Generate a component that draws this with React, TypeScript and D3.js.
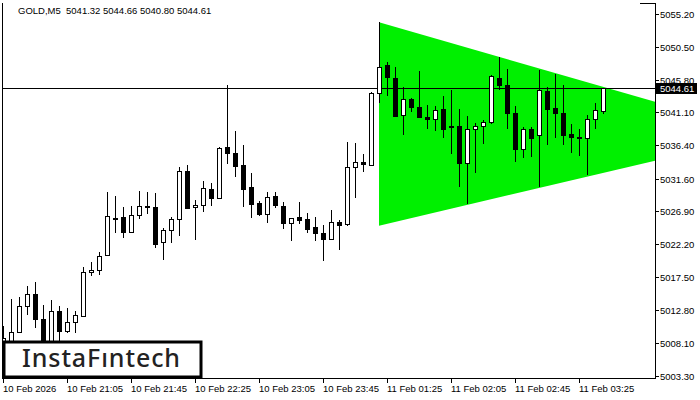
import React from "react";
import * as d3 from "d3";

// GOLD M5 bars (index 0 = 10 Feb 20:25)
const opens = [
  5006.5, 5007.75, 5009.65, 5013.34, 5015.01, 5011.43, 5007.31, 5012.58, 5009.65, 5010.94,
  5011.9, 5018.17, 5018.5, 5020.61, 5026.0, 5026.06, 5023.9, 5026.34, 5027.63, 5027.53,
  5022.47, 5024.19, 5025.77, 5032.69, 5027.43, 5027.77, 5030.07, 5028.72, 5036.09, 5035.23,
  5033.51, 5030.35, 5028.06, 5026.48, 5029.06, 5027.67, 5025.19, 5026.1, 5025.77, 5024.62,
  5023.76, 5022.9, 5025.34, 5025.0, 5033.22, 5033.94, 5033.55, 5043.83, 5047.85, 5046.07,
  5040.68, 5042.97, 5041.82, 5040.39, 5040.1, 5041.54, 5039.1, 5039.1, 5033.79, 5038.67,
  5039.1, 5039.67, 5045.98, 5044.98, 5040.96, 5035.8, 5038.67, 5037.81, 5044.12, 5041.68,
  5040.96, 5037.95, 5037.52, 5037.38, 5040.1, 5041.32,
];
const highs = [
  5010.4, 5014.34, 5014.67, 5016.21, 5016.73, 5013.48, 5014.2, 5013.34, 5013.05, 5012.62,
  5018.88, 5019.69, 5021.08, 5029.68, 5029.11, 5027.49, 5027.67, 5029.82, 5029.68, 5029.54,
  5024.48, 5026.05, 5033.31, 5033.51, 5028.53, 5031.26, 5030.93, 5036.09, 5045.02, 5038.43,
  5036.42, 5032.36, 5028.39, 5029.68, 5029.68, 5028.25, 5025.91, 5028.25, 5026.67, 5026.1,
  5024.91, 5027.06, 5025.62, 5036.81, 5036.66, 5035.09, 5044.06, 5054.01, 5048.32, 5047.56,
  5044.69, 5043.16, 5046.98, 5042.11, 5041.97, 5043.4, 5044.26, 5041.54, 5040.53, 5039.53,
  5039.96, 5046.5, 5048.99, 5047.27, 5041.97, 5038.96, 5038.96, 5047.13, 5044.69, 5046.56,
  5044.98, 5039.39, 5038.67, 5040.68, 5042.4, 5044.66,
];
const lows = [
  5005.0, 5005.5, 5009.47, 5012.0, 5010.23, 5004.8, 5005.8, 5008.18, 5009.47, 5009.51,
  5011.69, 5017.68, 5017.82, 5020.51, 5023.76, 5023.04, 5023.8, 5025.77, 5026.53, 5021.69,
  5019.97, 5022.33, 5023.42, 5027.24, 5022.8, 5026.86, 5027.72, 5028.68, 5033.74, 5031.87,
  5027.57, 5025.99, 5026.24, 5025.28, 5027.43, 5024.42, 5022.7, 5025.05, 5023.84, 5022.7,
  5019.83, 5022.8, 5021.41, 5024.85, 5028.78, 5032.48, 5033.45, 5042.48, 5043.49, 5040.43,
  5037.9, 5041.11, 5040.33, 5038.67, 5038.38, 5037.38, 5035.09, 5030.35, 5027.92, 5032.36,
  5036.52, 5039.39, 5044.26, 5038.67, 5033.94, 5034.51, 5034.66, 5030.35, 5036.38, 5037.38,
  5036.38, 5035.23, 5034.8, 5032.07, 5038.67, 5040.8,
];
const closes = [
  5008.8, 5009.56, 5013.34, 5015.01, 5011.43, 5006.74, 5012.58, 5009.65, 5010.99, 5012.0,
  5018.17, 5018.5, 5020.46, 5026.2, 5025.81, 5023.9, 5026.34, 5027.63, 5027.67, 5022.27,
  5024.19, 5025.77, 5032.69, 5027.43, 5027.77, 5030.21, 5028.72, 5035.95, 5035.17, 5033.31,
  5030.01, 5027.86, 5026.43, 5028.96, 5027.77, 5025.28, 5025.91, 5025.71, 5024.27, 5023.76,
  5022.84, 5025.34, 5024.85, 5033.22, 5033.94, 5033.65, 5043.83, 5047.56, 5046.07, 5040.58,
  5042.97, 5041.82, 5040.39, 5040.1, 5041.39, 5038.67, 5038.96, 5033.79, 5038.67, 5039.1,
  5039.67, 5046.27, 5044.98, 5040.96, 5035.8, 5038.67, 5037.38, 5044.26, 5041.54, 5040.96,
  5037.81, 5037.52, 5037.32, 5040.1, 5041.39, 5044.61,
];

const priceTicks = [5055.2, 5050.5, 5045.8, 5041.1, 5036.4, 5031.6, 5026.9, 5022.2, 5017.5, 5012.8, 5008.1, 5003.3];
const timeTickIdx = [0, 8, 16, 24, 32, 40, 48, 56, 64, 72];
const timeTickLabels = [
  "10 Feb 2026", "10 Feb 21:05", "10 Feb 21:45", "10 Feb 22:25", "10 Feb 23:05",
  "10 Feb 23:45", "11 Feb 01:25", "11 Feb 02:05", "11 Feb 02:45", "11 Feb 03:25",
];

// symmetric triangle: [bar index, price]
const triTop = [[47, 5054.01], [81.5, 5042.63]];
const triBottom = [[47, 5024.85], [81.5, 5034.17]];

const lastPrice = 5044.61;
const title = "GOLD,M5  5041.32 5044.66 5040.80 5044.61";

const W = 700;
const H = 400;
const L = 2;
const R = 655;
const T = 3;
const B = 378;

export default function App() {
  const x = d3.scaleLinear().domain([0, 81.5]).range([3, R]);
  const y = d3.scaleLinear().domain([5003.3, 5055.2]).range([376, 14]);
  const font = "'Liberation Sans', Arial, sans-serif";

  const poly = [triTop[0], triTop[1], triBottom[1], triBottom[0]]
    .map(([i, p]) => `${x(i)},${y(p)}`)
    .join(" ");
  const yLast = Math.round(y(lastPrice)) + 0.5;

  return (
    <svg
      width={W}
      height={H}
      style={{ position: "absolute", left: 0, top: 0, background: "#fff" }}
    >
      <defs>
        <clipPath id="plot">
          <rect x={L} y={T} width={R - L} height={B - T} />
        </clipPath>
      </defs>
      <rect width={W} height={H} fill="#fff" />

      <g clipPath="url(#plot)">
        <polygon points={poly} fill="#00f000" />
        <line x1={L} x2={R} y1={yLast} y2={yLast} stroke="#000" strokeWidth={1} />
        {opens.map((o, i) => {
          const c = closes[i];
          const cx = Math.round(x(i));
          const yo = y(o);
          const yc = y(c);
          const top = Math.round(Math.min(yo, yc));
          const h = Math.max(Math.round(Math.abs(yo - yc)), 1);
          const up = c >= o;
          return (
            <g key={i}>
              <line
                x1={cx + 0.5}
                x2={cx + 0.5}
                y1={Math.round(y(highs[i]))}
                y2={Math.round(y(lows[i]))}
                stroke="#000"
                strokeWidth={1}
              />
              <rect
                x={cx - 1.5}
                y={top + 0.5}
                width={4}
                height={h}
                fill={up ? "#fff" : "#000"}
                stroke="#000"
                strokeWidth={1}
              />
            </g>
          );
        })}
      </g>

      {/* frame */}
      <line x1={L + 0.5} x2={L + 0.5} y1={T} y2={B} stroke="#000" />
      <line x1={L} x2={R} y1={B + 0.5} y2={B + 0.5} stroke="#000" />
      <line x1={R + 0.5} x2={R + 0.5} y1={T} y2={B + 1} stroke="#000" />
      <line x1={R - 15} x2={R + 1} y1={T + 0.5} y2={T + 0.5} stroke="#000" />

      {/* price axis */}
      {priceTicks.map((p) => {
        const py = Math.round(y(p)) + 0.5;
        return (
          <g key={p}>
            <line x1={R} x2={R + 4} y1={py} y2={py} stroke="#000" />
            <text x={660} y={py + 3.5} fontFamily={font} fontSize={9.5} fill="#000">
              {p.toFixed(2)}
            </text>
          </g>
        );
      })}
      <rect x={R + 1} y={83} width={41} height={11} fill="#000" />
      <text x={660} y={yLast + 3.5} fontFamily={font} fontSize={9.5} fill="#fff">
        {lastPrice.toFixed(2)}
      </text>

      {/* time axis */}
      {timeTickIdx.map((idx, j) => {
        const tx = Math.round(x(idx)) + 0.5;
        return (
          <g key={idx}>
            <line x1={tx} x2={tx} y1={B} y2={B + 5} stroke="#000" />
            <text x={tx - 0.5} y={392} fontFamily={font} fontSize={9.5} fill="#000">
              {timeTickLabels[j]}
            </text>
          </g>
        );
      })}

      <text
        x={18}
        y={14}
        fontFamily={font}
        fontSize={9.5}
        fill="#000"
        style={{ whiteSpace: "pre" }}
      >
        {title}
      </text>

      {/* logo */}
      <rect x={4} y={342} width={197} height={35} fill="#fff" stroke="#000" strokeWidth={3} />
      <text
        x={22}
        y={367}
        fontFamily="'Noto Sans', sans-serif"
        fontWeight={500}
        fontSize={25}
        fill="#222"
        textLength={158}
        lengthAdjust="spacing"
      >
        InstaFıntech
      </text>
    </svg>
  );
}
